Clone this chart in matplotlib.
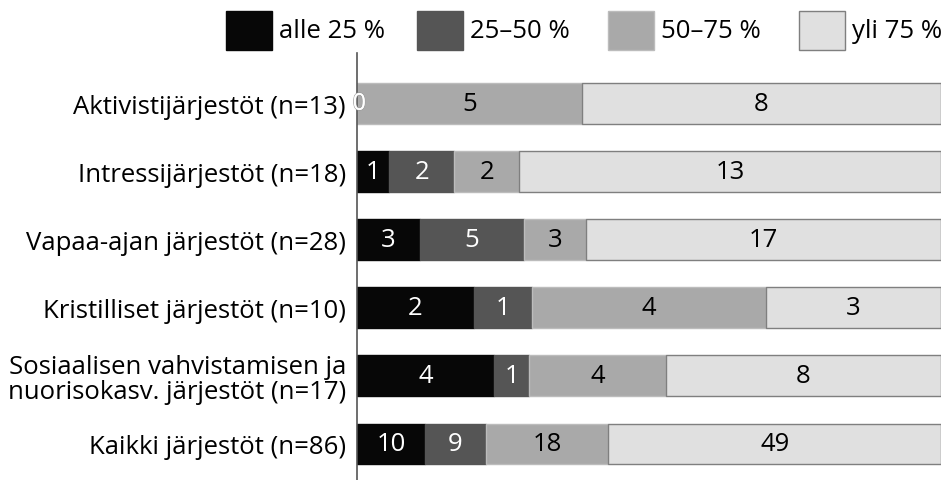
import matplotlib
matplotlib.use("Agg")
import matplotlib.pyplot as plt
from matplotlib.patches import Rectangle
import matplotlib.patheffects as pe
import numpy as np

plt.rcParams['font.family'] = ['Open Sans', 'DejaVu Sans']

categories = [
    "Aktivistijärjestöt (n=13)",
    "Intressijärjestöt (n=18)",
    "Vapaa-ajan järjestöt (n=28)",
    "Kristilliset järjestöt (n=10)",
    "Sosiaalisen vahvistamisen ja\nnuorisokasv. järjestöt (n=17)",
    "Kaikki järjestöt (n=86)",
]
series_names = ["alle 25 %", "25–50 %", "50–75 %", "yli 75 %"]
alle25 = [0, 1, 3, 2, 4, 10]
p25_50 = [0, 2, 5, 1, 1, 9]
p50_75 = [5, 2, 3, 4, 4, 18]
yli75 = [8, 13, 17, 3, 8, 49]

colors = ["#070707", "#555555", "#a9a9a9", "#e0e0e0"]
edges = ["#070707", "#555555", "#bcbcbc", "#7f7f7f"]
text_colors = ["white", "white", "black", "black"]
FS = 18.5

W, H = 944, 481
data = np.array([alle25, p25_50, p50_75, yli75], dtype=float)
totals = data.sum(axis=0)
frac = data / totals

fig = plt.figure(figsize=(W / 100, H / 100), dpi=100)
ax = fig.add_axes([357 / W, 0, (941 - 357) / W, 1 - 54 / H])

n = len(categories)
y = np.arange(n)[::-1]
left = np.zeros(n)
for i in range(4):
    ax.barh(y, frac[i], left=left, height=0.60, color=colors[i],
            edgecolor=edges[i], linewidth=1.0)
    for j in range(n):
        v = int(data[i, j])
        if v == 0 and i == 1:
            continue
        if v == 0:
            t = ax.text(0.004, y[j], str(v), ha='center', va='center',
                        color='white', fontsize=FS - 2)
            t.set_path_effects([pe.withStroke(linewidth=1.0, foreground='#9a9a9a'),
                                pe.Normal()])
        else:
            cx = left[j] + frac[i, j] / 2
            ax.text(cx, y[j], str(v), ha='center', va='center',
                    color=text_colors[i], fontsize=FS)
    left += frac[i]

ax.set_xlim(0, 1)
ax.set_ylim(-0.53, n - 1 + 0.745)
ax.set_yticks(y)
ax.set_yticklabels(categories, fontsize=FS, linespacing=1.0)
ax.tick_params(axis='y', length=0, pad=8)
ax.set_xticks([])
for s in ['top', 'right', 'bottom']:
    ax.spines[s].set_visible(False)
ax.spines['left'].set_color('#555555')
ax.spines['left'].set_linewidth(1.2)

# legend (top)
patch_x = [226, 417, 608, 799]
for i in range(4):
    fig.patches.append(Rectangle((patch_x[i] / W, 1 - 51 / H), 46 / W, 39 / H,
                                 transform=fig.transFigure, facecolor=colors[i],
                                 edgecolor=edges[i], linewidth=1.0))
    fig.text((patch_x[i] + 53) / W, 1 - 31.5 / H, series_names[i],
             ha='left', va='center', fontsize=FS)

fig.savefig("out.png", dpi=100)
